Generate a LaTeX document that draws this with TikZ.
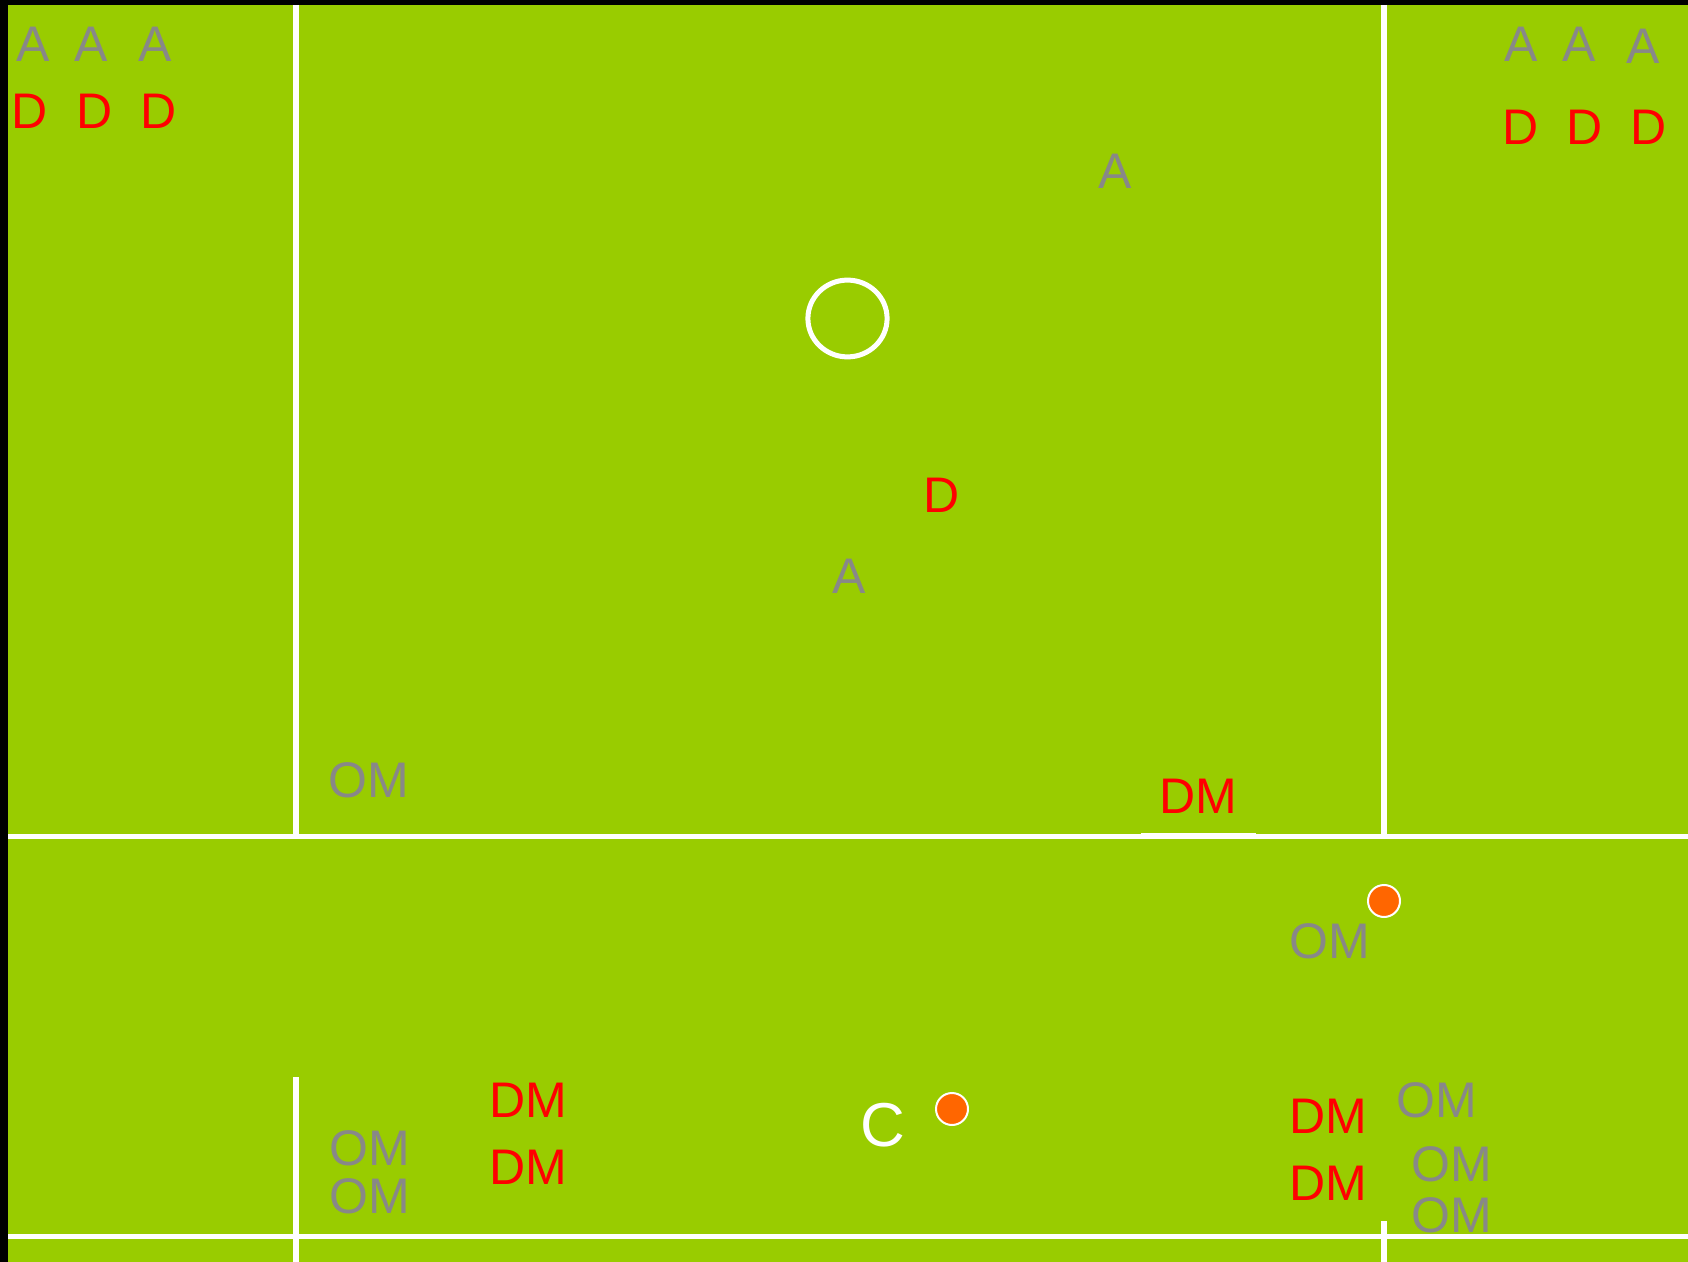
\documentclass[tikz,border=0pt]{standalone}
\usepackage{fontspec}
\setmainfont{Liberation Sans}
\definecolor{field}{HTML}{99CC00}
\definecolor{txtgrey}{HTML}{888888}
\definecolor{ballorange}{HTML}{FF6600}
\begin{document}
\begin{tikzpicture}[x=0.5pt,y=-0.5pt,
  lbl/.style={inner sep=0pt, font=\fontsize{25}{30}\selectfont},
  att/.style={lbl,text=txtgrey},
  dfn/.style={lbl,text=red},
  wline/.style={draw=white,line width=2.6pt},
  ball/.style={circle,fill=ballorange,draw=white,line width=1pt,minimum size=16pt,inner sep=0pt}]
\fill[black] (0,0) rectangle (1688,1262);
\fill[field] (8,5) rectangle (1688,1262);
\useasboundingbox (0,0) rectangle (1688,1262);
% field lines
\draw[wline] (296,5) -- (296,837);
\draw[wline] (1384,5) -- (1384,837);
\draw[wline] (8,836.8) -- (1688,836.8);
\draw[wline] (1141,835.5) -- (1256,835.5);
\draw[wline] (8,1236.5) -- (1688,1236.5);
\draw[wline] (296,1077) -- (296,1262);
\draw[wline] (1384,1221) -- (1384,1262);
\draw[draw=white,line width=2.5pt] (847.5,318.5) ellipse [x radius=19.8pt, y radius=19.2pt];
% balls
\node[ball] (b1) at (1384,901) {};
\node[ball] (b2) at (952,1109) {};
% top-left
\node[att] (a1) at (33,44) {A};
\node[att] (a2) at (91,44) {A};
\node[att] (a3) at (155,44) {A};
\node[dfn] (d1) at (30,111) {D};
\node[dfn] (d2) at (95,111) {D};
\node[dfn] (d3) at (159,111) {D};
% top-right
\node[att] (a4) at (1521,44) {A};
\node[att] (a5) at (1579,44) {A};
\node[att] (a6) at (1643,46) {A};
\node[dfn] (d4) at (1521,127.5) {D};
\node[dfn] (d5) at (1585,127.5) {D};
\node[dfn] (d6) at (1649,127.5) {D};
% centre area
\node[att] (a7) at (1115,171) {A};
\node[dfn] (d7) at (942,495) {D};
\node[att] (a8) at (849,576) {A};
\node[att] (om1) at (369,780) {OM};
\node[dfn] (dm1) at (1198,796) {DM};
\node[att] (om2) at (1330,941) {OM};
% bottom-left
\node[att] (om3) at (369.5,1148) {OM};
\node[att] (om4) at (369.5,1196) {OM};
\node[dfn] (dm2) at (528,1100) {DM};
\node[dfn] (dm3) at (528,1167) {DM};
% centre
\node[lbl,text=white,font=\fontsize{31}{37}\selectfont] (c) at (883,1125.5) {C};
% bottom-right
\node[dfn] (dm4) at (1328,1116) {DM};
\node[dfn] (dm5) at (1328,1183) {DM};
\node[att] (om5) at (1437,1100) {OM};
\node[att] (om6) at (1452,1164) {OM};
\node[att] (om7) at (1452,1215) {OM};
\end{tikzpicture}
\end{document}
